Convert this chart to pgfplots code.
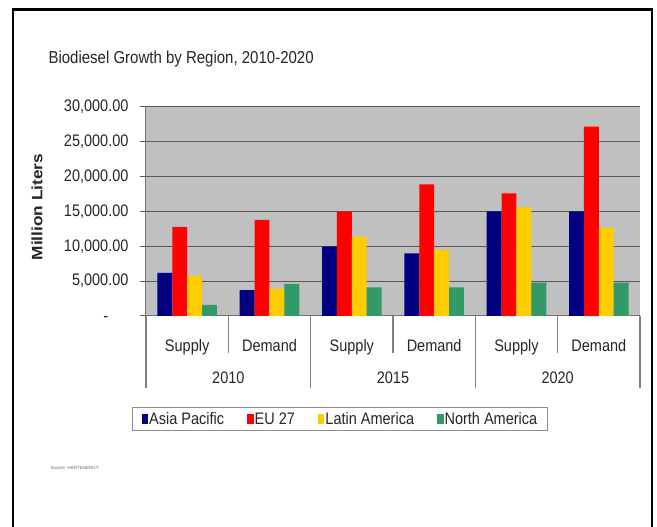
\documentclass[border=0pt]{standalone}
\usepackage{fontspec}
\setmainfont{Liberation Sans}
\usepackage{graphicx}
\usepackage{pgfplots}
\usepackage{pgfplotstable}
\pgfplotsset{compat=1.18}
\definecolor{cNavy}{HTML}{000080}
\definecolor{cRed}{HTML}{FF0000}
\definecolor{cYel}{HTML}{FFCC00}
\definecolor{cGrn}{HTML}{339966}
\definecolor{cArea}{HTML}{C0C0C0}
\newcommand{\vs}[1]{\scalebox{1}[1.15]{#1}}
\newcommand{\fs}{\fontsize{14.5}{17}\selectfont}

\pgfplotstableread{
x AP EU LA NA
0 6200 12800 5800 1600
1 3700 13800 3900 4600
2 10000 15000 11400 4100
3 9000 18900 9500 4100
4 15000 17600 15600 4800
5 15000 27200 12700 4800
}\data

\begin{document}
\begin{tikzpicture}
\useasboundingbox (0,0) rectangle (657pt,527pt);
\fill[white] (0,0) rectangle (657pt,527pt);
\begin{scope}
\clip (0,0) rectangle (657pt,527pt);
\draw[line width=2.5pt] (13pt,-10pt) -- (13pt,517.5pt) -- (652pt,517.5pt) -- (652pt,-10pt);
\end{scope}
\begin{axis}[
  at={(146pt,211pt)}, anchor=south west,
  scale only axis, width=494pt, height=209pt,
  clip=false,
  ybar=0pt, bar width=14.9pt,
  xmin=-0.5, xmax=5.5, ymin=0, ymax=30000,
  scaled y ticks=false,
  axis background/.style={fill=cArea},
  axis x line*=bottom, axis y line*=left,
  axis line style={black!55, line width=1pt},
  xtick=data,
  xticklabels={{\vs{Supply}},{\vs{Demand}},{\vs{Supply}},{\vs{Demand}},{\vs{Supply}},{\vs{Demand}}},
  x tick style={draw=none},
  xticklabel style={anchor=base, yshift=-30pt},
  ytick={0,5000,10000,15000,20000,25000,30000},
  yticklabels={{\vs{-\phantom{.00}}},{\vs{5,000.00}},{\vs{10,000.00}},{\vs{15,000.00}},{\vs{20,000.00}},{\vs{25,000.00}},{\vs{30,000.00}}},
  ymajorgrids, grid style={black!65, line width=1pt},
  tick align=outside, major tick length=6pt,
  y tick style={black!65, line width=1pt},
  yticklabel style={anchor=east, xshift=-8pt},
  tick label style={font=\fs, text=black!85},
  ylabel={\scalebox{1.15}[1]{Million Liters}},
  ylabel style={at={(axis description cs:-0.2206,0.5215)}, anchor=center, font=\bfseries\fontsize{15}{18}\selectfont, text=black!85},
  title={\vs{Biodiesel Growth by Region, 2010-2020}},
  title style={at={(axis description cs:-0.2045,1.1818)}, anchor=base west, yshift=0pt, font=\fontsize{15}{18}\selectfont, text=black!85},
  legend columns=4,
  legend cell align=left,
  legend image code/.code={\fill[#1] (0pt,-5pt) rectangle (6.5pt,5pt);},
  legend style={at={(axis description cs:0.3927,-0.4928)}, anchor=center,
    draw=black!45, line width=1.2pt, font=\fs, text=black!85,
    inner xsep=9pt, inner ysep=3pt,
    nodes={inner xsep=1pt, inner ysep=2pt},
    /tikz/every even column/.append style={column sep=22pt}},
]
\addplot[fill=cNavy, draw=none] table[x=x, y=AP] {\data};
\addlegendentry{\vs{Asia Pacific}}
\addplot[fill=cRed, draw=none] table[x=x, y=EU] {\data};
\addlegendentry{\vs{EU 27}}
\addplot[fill=cYel, draw=none] table[x=x, y=LA] {\data};
\addlegendentry{\vs{Latin America}}
\addplot[fill=cGrn, draw=none] table[x=x, y=NA] {\data};
\addlegendentry{\vs{North America}}
\draw[black!50, line width=1.5pt] (axis cs:-0.5,0) -- ++(0pt,-72pt);
\draw[black!50, line width=1.5pt] (axis cs:1.5,0) -- ++(0pt,-72pt);
\draw[black!50, line width=1.5pt] (axis cs:3.5,0) -- ++(0pt,-72pt);
\draw[black!50, line width=1.5pt] (axis cs:5.5,0) -- ++(0pt,-72pt);
\draw[black!50, line width=1.5pt] (axis cs:0.5,0) -- ++(0pt,-37pt);
\draw[black!50, line width=1.5pt] (axis cs:2.5,0) -- ++(0pt,-37pt);
\draw[black!50, line width=1.5pt] (axis cs:4.5,0) -- ++(0pt,-37pt);
\node[anchor=base, font=\fs, text=black!85, yshift=-68pt] at (axis cs:0.5,0) {\vs{2010}};
\node[anchor=base, font=\fs, text=black!85, yshift=-68pt] at (axis cs:2.5,0) {\vs{2015}};
\node[anchor=base, font=\fs, text=black!85, yshift=-68pt] at (axis cs:4.5,0) {\vs{2020}};
\end{axis}
\node[anchor=west, font=\fontsize{4.5}{5}\selectfont, text=black!60] at (47pt,59pt) {Source: HARTENERGY};
\end{tikzpicture}
\end{document}
